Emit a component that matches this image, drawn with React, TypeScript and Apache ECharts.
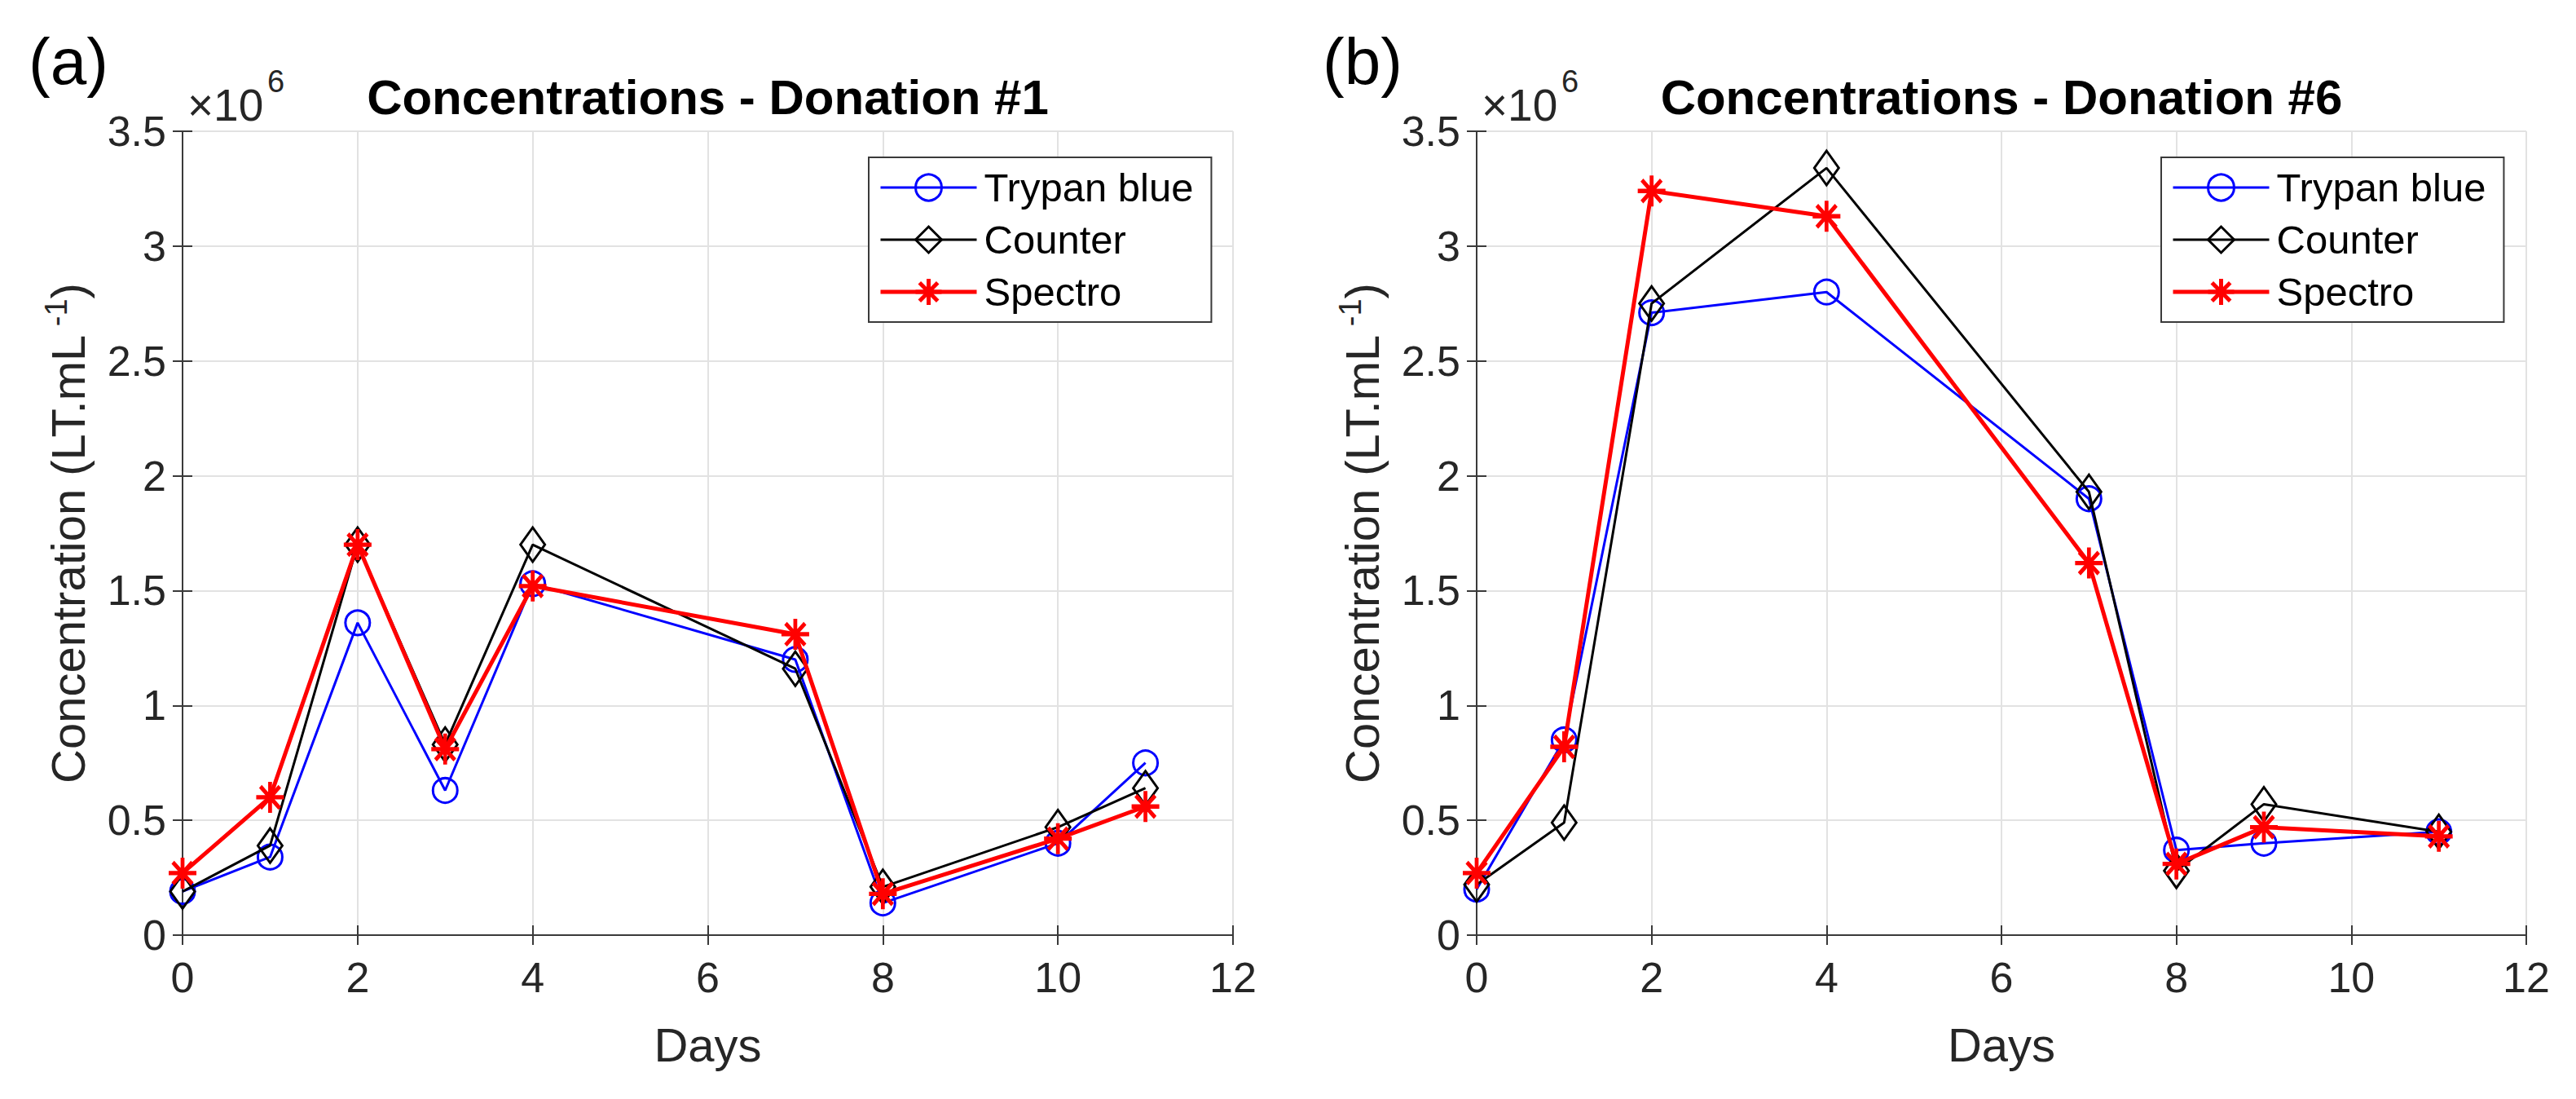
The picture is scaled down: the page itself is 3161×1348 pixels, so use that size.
import React, { useEffect, useRef } from "react";
import * as echarts from "echarts";

// Panel (a) - Donation #1 (values in ×10^6 LT/mL)
const days1 = [0, 1, 2, 3, 4, 7, 8, 10, 11];
const trypan1 = [0.19, 0.34, 1.36, 0.63, 1.53, 1.2, 0.14, 0.4, 0.75];
const counter1 = [0.19, 0.39, 1.7, 0.83, 1.7, 1.16, 0.21, 0.47, 0.64];
const spectro1 = [0.27, 0.6, 1.7, 0.81, 1.52, 1.31, 0.18, 0.42, 0.56];

// Panel (b) - Donation #6
const days2 = [0, 1, 2, 4, 7, 8, 9, 11];
const trypan2 = [0.2, 0.85, 2.71, 2.8, 1.9, 0.37, 0.4, 0.45];
const counter2 = [0.22, 0.49, 2.75, 3.34, 1.93, 0.28, 0.57, 0.45];
const spectro2 = [0.27, 0.82, 3.24, 3.13, 1.62, 0.31, 0.47, 0.43];

const seriesNames = ["Trypan blue", "Counter", "Spectro"];
const titles = ["Concentrations - Donation #1", "Concentrations - Donation #6"];
const panelLabels = ["(a)", "(b)"];
const xLabel = "Days";

const FONT = "'Liberation Sans', Arial, Helvetica, sans-serif";
const AXIS_COLOR = "#3a3a3a";
const TEXT_COLOR = "#262626";
const GRID_COLOR = "#e2e2e2";

const grids = [
  { left: 224, top: 161, width: 1289, height: 986 },
  { left: 1812, top: 161, width: 1288, height: 986 },
];

const ASTERISK = "path://M0 -10L0 10M-10 0L10 0M-7 -7L7 7M-7 7L7 -7";

function pairs(xs: number[], ys: number[]) {
  return xs.map((x, i) => [x, ys[i]]);
}

function buildOption() {
  const xAxes: any[] = [];
  const yAxes: any[] = [];
  const series: any[] = [];
  const legends: any[] = [];
  const graphics: any[] = [];

  const panels = [
    { days: days1, vals: [trypan1, counter1, spectro1] },
    { days: days2, vals: [trypan2, counter2, spectro2] },
  ];

  panels.forEach((p, gi) => {
    const g = grids[gi];
    const baseLine = { show: true, lineStyle: { color: AXIS_COLOR, width: 2 } };
    const tick = { show: true, inside: true, length: 12, lineStyle: { color: AXIS_COLOR, width: 2 } };
    xAxes.push({
      gridIndex: gi,
      type: "value",
      min: 0,
      max: 12,
      interval: 2,
      position: "bottom",
      axisLine: baseLine,
      axisTick: tick,
      axisLabel: { show: true, fontSize: 52, fontFamily: FONT, color: TEXT_COLOR, margin: 26 },
      splitLine: { show: true, lineStyle: { color: GRID_COLOR, width: 2 } },
      name: xLabel,
      nameLocation: "middle",
      nameGap: 105,
      nameTextStyle: { fontSize: 58, fontFamily: FONT, color: TEXT_COLOR },
    });
    xAxes.push({
      gridIndex: gi,
      type: "value",
      min: 0,
      max: 12,
      interval: 2,
      position: "top",
      axisLine: baseLine,
      axisTick: tick,
      axisLabel: { show: false },
      splitLine: { show: false },
    });
    yAxes.push({
      gridIndex: gi,
      type: "value",
      min: 0,
      max: 3.5,
      interval: 0.5,
      position: "left",
      axisLine: baseLine,
      axisTick: tick,
      axisLabel: { show: true, fontSize: 52, fontFamily: FONT, color: TEXT_COLOR, margin: 20 },
      splitLine: { show: true, lineStyle: { color: GRID_COLOR, width: 2 } },
      name: "Concentration (LT.mL{sup| -1})",
      nameLocation: "middle",
      nameRotate: 90,
      nameGap: 108,
      nameTextStyle: {
        fontSize: 58,
        fontFamily: FONT,
        color: TEXT_COLOR,
        lineHeight: 66,
        rich: {
          sup: { fontSize: 38, fontFamily: FONT, color: TEXT_COLOR, verticalAlign: "top", lineHeight: 66 },
        },
      },
    });
    yAxes.push({
      gridIndex: gi,
      type: "value",
      min: 0,
      max: 3.5,
      interval: 0.5,
      position: "right",
      axisLine: baseLine,
      axisTick: tick,
      axisLabel: { show: false },
      splitLine: { show: false },
    });

    const xi = gi * 2;
    const yi = gi * 2;
    series.push({
      name: seriesNames[0],
      type: "line",
      xAxisIndex: xi,
      yAxisIndex: yi,
      data: pairs(p.days, p.vals[0]),
      symbol: "circle",
      symbolSize: 30,
      itemStyle: { color: "rgba(0,0,0,0)", borderColor: "#0000ff", borderWidth: 3 },
      lineStyle: { color: "#0000ff", width: 3 },
      emphasis: { disabled: true },
      z: 2,
    });
    series.push({
      name: seriesNames[1],
      type: "line",
      xAxisIndex: xi,
      yAxisIndex: yi,
      data: pairs(p.days, p.vals[1]),
      symbol: "diamond",
      symbolSize: [30, 42],
      itemStyle: { color: "rgba(0,0,0,0)", borderColor: "#000000", borderWidth: 3 },
      lineStyle: { color: "#000000", width: 3 },
      emphasis: { disabled: true },
      z: 3,
    });
    series.push({
      name: seriesNames[2],
      type: "line",
      xAxisIndex: xi,
      yAxisIndex: yi,
      data: pairs(p.days, p.vals[2]),
      symbol: ASTERISK,
      symbolSize: [34, 38],
      itemStyle: { color: "rgba(0,0,0,0)", borderColor: "#ff0000", borderWidth: 5 },
      lineStyle: { color: "#ff0000", width: 5 },
      emphasis: { disabled: true },
      z: 4,
    });

    legends.push({
      data: seriesNames,
      orient: "vertical",
      left: gi === 0 ? 1066 : 2652,
      top: 193,
      itemWidth: 118,
      itemHeight: 40,
      itemGap: 14,
      padding: [12, 22, 12, 12],
      backgroundColor: "#ffffff",
      borderColor: "#3a3a3a",
      borderWidth: 2,
      borderRadius: 0,
      selectedMode: false,
      itemStyle: { borderWidth: "inherit" },
      lineStyle: { width: "inherit" },
      textStyle: { fontSize: 49, fontFamily: FONT, color: "#000000", lineHeight: 50, padding: [0, 0, 0, 4] },
    });

    const cx = g.left + g.width / 2;
    graphics.push({
      type: "text",
      x: cx,
      y: 119,
      style: {
        text: titles[gi],
        fontSize: 60,
        fontWeight: "bold",
        fontFamily: FONT,
        fill: "#000000",
        align: "center",
        verticalAlign: "middle",
      },
    });
    graphics.push({
      type: "text",
      x: g.left + 6,
      y: 129,
      style: {
        text: "×10",
        fontSize: 55,
        fontFamily: FONT,
        fill: TEXT_COLOR,
        align: "left",
        verticalAlign: "middle",
      },
    });
    graphics.push({
      type: "text",
      x: g.left + 104,
      y: 100,
      style: {
        text: "6",
        fontSize: 38,
        fontFamily: FONT,
        fill: TEXT_COLOR,
        align: "left",
        verticalAlign: "middle",
      },
    });
    graphics.push({
      type: "text",
      x: g.left - 189,
      y: 75,
      style: {
        text: panelLabels[gi],
        fontSize: 80,
        fontFamily: FONT,
        fill: "#000000",
        align: "left",
        verticalAlign: "middle",
      },
    });
  });

  return {
    animation: false,
    backgroundColor: "#ffffff",
    grid: grids,
    xAxis: xAxes,
    yAxis: yAxes,
    legend: legends,
    series,
    graphic: graphics,
  };
}

export default function App() {
  const ref = useRef<HTMLDivElement>(null);
  useEffect(() => {
    if (!ref.current) return;
    const chart = echarts.init(ref.current, undefined, { renderer: "svg" });
    chart.setOption(buildOption() as any);
    return () => {
      chart.dispose();
    };
  }, []);
  return (
    <div
      ref={ref}
      style={{ position: "absolute", left: 0, top: 0, width: 3161, height: 1348, background: "#fff" }}
    />
  );
}
